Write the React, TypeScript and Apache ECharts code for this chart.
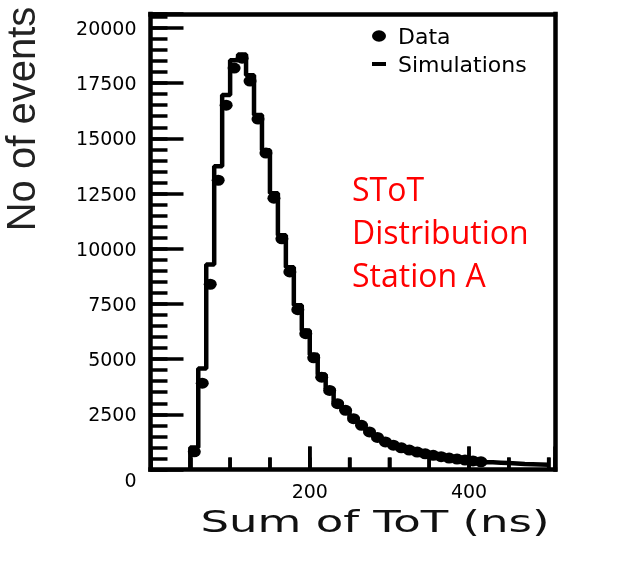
import { useEffect, useRef } from "react";
import * as echarts from "echarts";

// Simulation histogram: lower bin edges (ns) and counts
const simBinLow = [
  50, 60, 70, 80, 90, 100, 110, 120, 130, 140, 150, 160, 170, 180, 190,
  200, 210, 220, 230, 240, 250, 260, 270, 280, 290, 300, 310, 320, 330, 340,
  350, 360, 370, 380, 390, 400, 410, 420, 430, 440, 450, 460, 470, 480, 490,
];
const simBinWidth = 10;
const simCounts = [
  1000, 4580, 9290, 13740, 16960, 18540, 18800, 17860, 16050, 14460, 12510,
  10610, 9160, 7440, 6300, 5200, 4300, 3650, 3050, 2720, 2350, 2050, 1750,
  1500, 1290, 1130, 1000, 900, 810, 730, 660, 600, 540, 490, 450, 410, 370,
  330, 310, 290, 270, 250, 240, 230, 220,
];

// Measured data: bin centres (ns) and counts
const dataBinCenter = [
  55, 65, 75, 85, 95, 105, 115, 125, 135, 145, 155, 165, 175, 185, 195, 205,
  215, 225, 235, 245, 255, 265, 275, 285, 295, 305, 315, 325, 335, 345, 355,
  365, 375, 385, 395, 405, 415,
];
const dataCounts = [
  800, 3910, 8390, 13100, 16500, 18180, 18630, 17590, 15870, 14330, 12290,
  10450, 8950, 7240, 6150, 5060, 4180, 3580, 2980, 2680, 2300, 2000, 1700,
  1450, 1250, 1100, 980, 880, 790, 710, 640, 580, 520, 470, 430, 390, 350,
];

// x-axis tick marks (ns): minor every 50, major (labelled) at 200 and 400
const xMinorTicks = [50, 100, 150, 250, 300, 350, 450, 500];
const xMajorTicks = [200, 400];
const xLabelValues = [200, 400];
const yLabelStep = 2500;

const FONT_TICK = "DejaVu Sans";
const X_MAX = 508;
const Y_MAX = 20630;

export default function App() {
  const ref = useRef<HTMLDivElement>(null);

  useEffect(() => {
    if (!ref.current) return;
    const chart = echarts.init(ref.current, undefined, { renderer: "svg" });

    const simLine: [number, number][] = [[simBinLow[0], 0]];
    simBinLow.forEach((x, i) => simLine.push([x, simCounts[i]]));
    const last = simBinLow.length - 1;
    simLine.push([simBinLow[last] + simBinWidth, simCounts[last]]);

    const dataPts = dataBinCenter.map((x, i) => [x, dataCounts[i]]);
    const xTickData = [
      ...xMinorTicks.map((v) => [v, 0]),
      ...xMajorTicks.map((v) => [v, 1]),
    ];

    const tick = (len: number) => ({
      show: true,
      inside: true,
      length: len,
      lineStyle: { color: "#000", width: 3.5 },
    });
    const frame = () => ({
      show: true,
      onZero: false,
      lineStyle: { color: "#000", width: 4.5, cap: "square" },
    });

    chart.setOption({
      animation: false,
      grid: { left: 150.5, right: 73, top: 14, bottom: 100.5, show: false },
      legend: {
        orient: "vertical",
        left: 372,
        top: 25,
        padding: 0,
        itemWidth: 14,
        itemHeight: 12,
        itemGap: 6,
        symbolKeepAspect: true,
        data: [
          { name: "Data" },
          { name: "Simulations", icon: "path://M0,0H14V4H0Z" },
        ],
        itemStyle: { color: "#000" },
        textStyle: {
          fontFamily: FONT_TICK,
          fontSize: 22,
          color: "#000",
          padding: [0, 0, 0, 7],
        },
      },
      xAxis: [
        {
          type: "value", min: 0, max: X_MAX, interval: 50, position: "bottom", z: 5,
          axisLine: frame(), axisTick: tick(12), axisLabel: { show: false },
          splitLine: { show: false },
        },
        {
          type: "value", min: 0, max: X_MAX, interval: 200, position: "bottom", z: 5,
          axisLine: { show: false, onZero: false }, axisTick: tick(23),
          axisLabel: {
            margin: 12,
            fontFamily: FONT_TICK,
            fontSize: 19,
            color: "#000",
            formatter: (v: number) => (xLabelValues.includes(v) ? String(v) : ""),
          },
          splitLine: { show: false },
        },
        {
          type: "value", min: 0, max: X_MAX, position: "top", z: 5,
          axisLine: frame(), axisTick: { show: false }, axisLabel: { show: false },
          splitLine: { show: false },
        },
      ],
      yAxis: [
        {
          type: "value", min: 0, max: Y_MAX, interval: 500, position: "left", z: 5,
          axisLine: frame(), axisTick: tick(17), axisLabel: { show: false },
          splitLine: { show: false },
        },
        {
          type: "value", min: 0, max: Y_MAX, interval: yLabelStep, position: "left", z: 5,
          axisLine: { show: false, onZero: false }, axisTick: tick(33),
          axisLabel: {
            margin: 14,
            fontFamily: FONT_TICK,
            fontSize: 19,
            color: "#000",
            formatter: (v: number) =>
              v === 0 ? "{z|0}" : v % yLabelStep === 0 ? String(v) : "",
            rich: {
              z: { padding: [20, 0, 0, 0], fontFamily: FONT_TICK, fontSize: 19, color: "#000" },
            },
          },
          splitLine: { show: false },
        },
        {
          type: "value", min: 0, max: Y_MAX, position: "right", z: 5,
          axisLine: frame(), axisTick: { show: false }, axisLabel: { show: false },
          splitLine: { show: false },
        },
      ],
      series: [
        {
          name: "Simulations",
          type: "line",
          xAxisIndex: 0,
          yAxisIndex: 0,
          step: "end",
          symbol: "none",
          showSymbol: false,
          data: simLine,
          lineStyle: { color: "#000", width: 4.5 },
          itemStyle: { color: "#000" },
          z: 2,
        },
        {
          name: "Data",
          type: "scatter",
          xAxisIndex: 0,
          yAxisIndex: 0,
          symbol: "path://M0,5A6,5 0 1,0 12,5A6,5 0 1,0 0,5Z",
          symbolSize: [13, 11],
          data: dataPts,
          itemStyle: { color: "#000", opacity: 1 },
          z: 3,
        },
        {
          name: "xTicks",
          type: "custom",
          xAxisIndex: 0,
          yAxisIndex: 0,
          silent: true,
          z: 6,
          data: xTickData,
          renderItem: (_params: any, api: any) => {
            const p = api.coord([api.value(0), 0]);
            const len = api.value(1) ? 23 : 12;
            return {
              type: "line",
              shape: { x1: p[0], y1: p[1], x2: p[0], y2: p[1] - len },
              style: { stroke: "#000", lineWidth: 3.5 },
            };
          },
        },
      ],
      graphic: [
        {
          type: "text",
          x: 21,
          y: 119,
          rotation: Math.PI / 2,
          style: {
            text: "No of events",
            fill: "#222",
            fontSize: 40,
            fontFamily: "Liberation Sans",
            align: "center",
            verticalAlign: "middle",
          },
        },
        {
          type: "text",
          x: 375,
          y: 522,
          scaleX: 1.5,
          style: {
            text: "Sum of ToT (ns)",
            fill: "#111",
            fontSize: 30,
            fontFamily: FONT_TICK,
            align: "center",
            verticalAlign: "middle",
          },
        },
        {
          type: "text",
          x: 352,
          y: 167,
          style: {
            text: "SToT\nDistribution\nStation A",
            fill: "#ff0000",
            fontSize: 32,
            fontFamily: "Open Sans",
            lineHeight: 43,
            align: "left",
            verticalAlign: "top",
          },
        },
      ],
    });

    return () => chart.dispose();
  }, []);

  return (
    <div
      ref={ref}
      style={{ position: "fixed", left: 0, top: 0, width: 628, height: 570 }}
    />
  );
}
